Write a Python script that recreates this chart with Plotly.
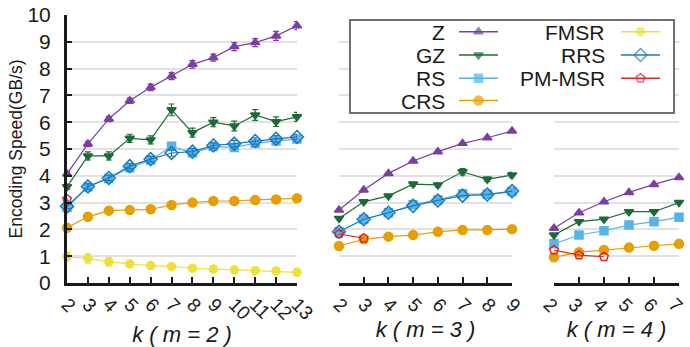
import plotly.graph_objects as go

# ---------------- data ----------------
k_m2 = list(range(2, 14))
k_m3 = list(range(2, 10))
k_m4 = list(range(2, 8))

Z_m2 = [4.07, 5.19, 6.12, 6.80, 7.30, 7.72, 8.16, 8.41, 8.82, 8.97, 9.22, 9.60]
GZ_m2 = [3.59, 4.74, 4.74, 5.40, 5.34, 6.46, 5.61, 6.00, 5.86, 6.27, 6.02, 6.20]
RS_m2 = [2.82, 3.58, 3.90, 4.30, 4.59, 5.10, 4.86, 5.09, 5.06, 5.21, 5.30, 5.37]
RRS_m2 = [2.86, 3.60, 3.92, 4.36, 4.62, 4.85, 4.90, 5.13, 5.20, 5.30, 5.38, 5.45]
CRS_m2 = [2.06, 2.47, 2.70, 2.72, 2.75, 2.91, 3.00, 3.06, 3.06, 3.10, 3.12, 3.16]
FMSR_m2 = [0.98, 0.92, 0.79, 0.71, 0.65, 0.61, 0.55, 0.52, 0.49, 0.46, 0.45, 0.40]
PMMSR_k_m2 = [2]
PMMSR_m2 = [3.13]

Z_m2_err = [0.08, 0.10, 0.10, 0.10, 0.12, 0.13, 0.14, 0.13, 0.15, 0.15, 0.17, 0.15]
GZ_m2_err = [0.10, 0.15, 0.15, 0.15, 0.15, 0.22, 0.17, 0.17, 0.18, 0.20, 0.18, 0.17]
RS_m2_err = [0.08, 0.10, 0.10, 0.10, 0.10, 0.10, 0.10, 0.10, 0.12, 0.12, 0.12, 0.10]
RRS_m2_err = [0.08, 0.10, 0.10, 0.10, 0.10, 0.12, 0.12, 0.10, 0.12, 0.12, 0.12, 0.10]
CRS_m2_err = [0.05, 0.06, 0.06, 0.06, 0.06, 0.07, 0.07, 0.07, 0.08, 0.08, 0.08, 0.07]
FMSR_m2_err = [0.15, 0.18, 0.15, 0.13, 0.12, 0.10, 0.08, 0.08, 0.07, 0.07, 0.06, 0.05]

Z_m3 = [2.72, 3.47, 4.09, 4.55, 4.90, 5.21, 5.42, 5.67]
GZ_m3 = [2.41, 3.03, 3.25, 3.69, 3.66, 4.15, 3.87, 4.03]
RS_m3 = [1.91, 2.38, 2.62, 2.92, 3.10, 3.33, 3.31, 3.41]
RRS_m3 = [1.91, 2.38, 2.62, 2.88, 3.08, 3.26, 3.30, 3.43]
CRS_m3 = [1.38, 1.63, 1.73, 1.79, 1.91, 1.98, 1.98, 2.01]
PMMSR_k_m3 = [2, 3]
PMMSR_m3 = [1.83, 1.67]
GZ_m3_err = [0.05, 0.05, 0.06, 0.07, 0.07, 0.12, 0.08, 0.10]

Z_m4 = [2.04, 2.62, 3.03, 3.38, 3.68, 3.94]
GZ_m4 = [1.79, 2.29, 2.38, 2.66, 2.66, 3.00]
RS_m4 = [1.46, 1.79, 1.95, 2.16, 2.29, 2.45]
CRS_m4 = [0.96, 1.15, 1.23, 1.32, 1.39, 1.46]
PMMSR_k_m4 = [2, 3, 4]
PMMSR_m4 = [1.23, 1.04, 0.98]

y_ticks = list(range(0, 11))
legend_col1 = ["Z", "GZ", "RS", "CRS"]
legend_col2 = ["FMSR", "RRS", "PM-MSR"]

# ---------------- styles ----------------
STY = {
    "Z": dict(color="#7d3f9f", symbol="triangle-up", size=8),
    "GZ": dict(color="#1c6b36", symbol="triangle-down", size=8),
    "RS": dict(color="#56b4e9", symbol="square", size=8),
    "CRS": dict(color="#e69f00", symbol="circle", size=9),
    "FMSR": dict(color="#efe13c", symbol="circle", size=8),
    "RRS": dict(color="#1b78bf", symbol="diamond-open", size=10),
    "PM-MSR": dict(color="#e3262a", symbol="pentagon-open", size=9),
}

fig = go.Figure()


def add(name, xs, ys, xa, ya, err=None):
    s = STY[name]
    tr = dict(
        x=xs, y=ys, mode="lines+markers", name=name, showlegend=False,
        xaxis=xa, yaxis=ya, cliponaxis=False,
        line=dict(color=s["color"], width=1.2),
        marker=dict(color=s["color"], symbol=s["symbol"], size=s["size"],
                    line=dict(color=s["color"], width=1.5)),
    )
    if err is not None:
        tr["error_y"] = dict(type="data", array=err, color=s["color"],
                             thickness=1.2, width=3)
    fig.add_trace(go.Scatter(**tr))


# panel m=2
add("FMSR", k_m2, FMSR_m2, "x", "y", FMSR_m2_err)
add("CRS", k_m2, CRS_m2, "x", "y", CRS_m2_err)
add("RS", k_m2, RS_m2, "x", "y", RS_m2_err)
add("RRS", k_m2, RRS_m2, "x", "y", RRS_m2_err)
add("PM-MSR", PMMSR_k_m2, PMMSR_m2, "x", "y")
add("GZ", k_m2, GZ_m2, "x", "y", GZ_m2_err)
add("Z", k_m2, Z_m2, "x", "y", Z_m2_err)

# panel m=3
add("CRS", k_m3, CRS_m3, "x2", "y2")
add("RS", k_m3, RS_m3, "x2", "y2")
add("RRS", k_m3, RRS_m3, "x2", "y2")
add("PM-MSR", PMMSR_k_m3, PMMSR_m3, "x2", "y2")
add("GZ", k_m3, GZ_m3, "x2", "y2", GZ_m3_err)
add("Z", k_m3, Z_m3, "x2", "y2")

# panel m=4
add("CRS", k_m4, CRS_m4, "x3", "y3")
add("RS", k_m4, RS_m4, "x3", "y3")
add("PM-MSR", PMMSR_k_m4, PMMSR_m4, "x3", "y3")
add("GZ", k_m4, GZ_m4, "x3", "y3")
add("Z", k_m4, Z_m4, "x3", "y3")

# ---------------- geometry ----------------
W, H = 690, 347
L, R, T, B = 67, 11, 15, 64
PW = W - L - R


def dom(a, b):
    return [(a - L) / PW, (b - L) / PW]


FONT = "Liberation Sans, Arial, sans-serif"
TXT = "#1a1a1a"

xcommon = dict(
    dtick=1, tickmode="linear", showline=True, linecolor="#1a1a1a", linewidth=3,
    ticks="inside", ticklen=6, tickwidth=1.5, tickcolor="#1a1a1a",
    tickangle=45, showgrid=False, zeroline=False, automargin=False,
    ticklabeloverflow="allow",
    tickfont=dict(family=FONT, size=19, color=TXT),
    title_font=dict(family=FONT, size=22, color=TXT), title_standoff=3,
)
ycommon = dict(range=[0, 10], tickvals=y_ticks, showgrid=True, automargin=False,
               gridcolor="#e2e2e2", gridwidth=1.5, zeroline=False)

fig.update_layout(
    width=W, height=H, margin=dict(l=L, r=R, t=T, b=B, autoexpand=False),
    plot_bgcolor="rgba(0,0,0,0)", paper_bgcolor="white", showlegend=False,
    xaxis=dict(domain=dom(67, 297), range=[2, 13], anchor="y",
               title_text="<i>k ( m = 2 )</i>", **xcommon),
    xaxis2=dict(domain=dom(339, 512), range=[2, 9], anchor="y2",
                title_text="<i>k ( m = 3 )</i>", **xcommon),
    xaxis3=dict(domain=dom(554, 679), range=[2, 7], anchor="y3",
                ticklabelshift=-5,
                title_text="<i>k ( m = 4 )</i>", **xcommon),
    yaxis=dict(anchor="x", showline=True, linecolor="#1a1a1a", linewidth=3,
               ticks="inside", ticklen=5, tickwidth=1.5, tickcolor="#1a1a1a",
               ticklabelstandoff=9,
               tickfont=dict(family=FONT, size=21, color=TXT),
               title_text="Encoding Speed(GB/s)", title_standoff=1,
               title_font=dict(family=FONT, size=17.5, color=TXT), **ycommon),
    yaxis2=dict(anchor="x2", showticklabels=False, showline=False, ticks="", **ycommon),
    yaxis3=dict(anchor="x3", showticklabels=False, showline=False, ticks="", **ycommon),
    # overlay axes in pixel units for the custom legend
    xaxis4=dict(domain=[0, 1], range=[L, W - R], visible=False, anchor="y4",
                automargin=False),
    yaxis4=dict(domain=[0, 1], range=[H - B, T], visible=False, anchor="x4",
                automargin=False),
)

# legend box
fig.add_shape(type="rect", xref="x4", yref="y4", x0=350, x1=674, y0=20, y1=113,
              line=dict(color="#444444", width=1.5), fillcolor="white", layer="below")

rows_y = [31.7, 55, 78.3, 100.5]
for col_names, tx, lx0, lx1 in [(legend_col1, 446, 459, 498), (legend_col2, 606, 621, 660)]:
    for i, nm in enumerate(col_names):
        s = STY[nm]
        y = rows_y[i]
        fig.add_annotation(xref="x4", yref="y4", x=tx, y=y, text=nm, showarrow=False,
                           xanchor="right", yanchor="middle", borderpad=0, height=22,
                           font=dict(family=FONT, size=21, color=TXT))
        fig.add_trace(go.Scatter(
            x=[lx0, (lx0 + lx1) / 2, lx1], y=[y, y, y], xaxis="x4", yaxis="y4",
            mode="lines+markers", showlegend=False, cliponaxis=False,
            line=dict(color=s["color"], width=1.5),
            marker=dict(color=s["color"], symbol=s["symbol"], size=[0, s["size"], 0],
                        line=dict(color=s["color"], width=1.5)),
        ))

fig.write_html("out.html")
